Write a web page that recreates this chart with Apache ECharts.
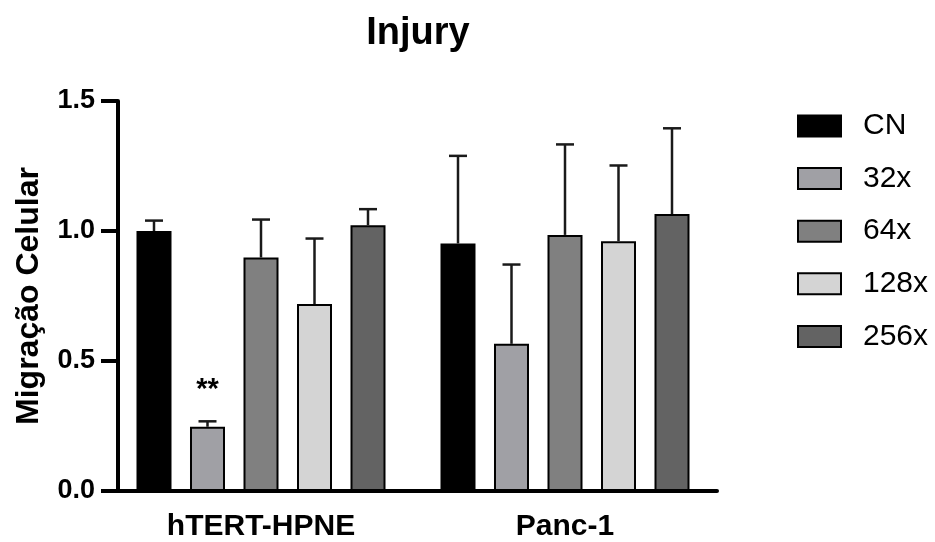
<!DOCTYPE html>
<html>
<head>
<meta charset="utf-8">
<script src="https://cdn.jsdelivr.net/npm/echarts@6/dist/echarts.min.js"></script>
<style>html,body{margin:0;padding:0;background:#fff}#c{width:935px;height:542px}</style>
</head>
<body>
<div id="c"></div>
<script>
const categories = ['hTERT-HPNE', 'Panc-1'];
const seriesNames = ['CN', '32x', '64x', '128x', '256x'];
const CN = [1.0, 0.952];
const x32 = [0.247, 0.566];
const x64 = [0.898, 0.985];
const x128 = [0.719, 0.961];
const x256 = [1.022, 1.065];
const errCN = [0.04, 0.337];
const err32 = [0.021, 0.305];
const err64 = [0.146, 0.348];
const err128 = [0.252, 0.291];
const err256 = [0.062, 0.33];
const sig32 = ['**', ''];
const yTicks = [0, 0.5, 1.0, 1.5];

const values = [CN, x32, x64, x128, x256];
const errors = [errCN, err32, err64, err128, err256];
const colors = ['#000000', '#a0a0a5', '#808080', '#d4d4d4', '#636363'];

const BAR_W = 35;
const GAP = 18.5;
const FONT = 'Liberation Sans, Arial, sans-serif';

const series = [];
seriesNames.forEach((name, i) => {
  series.push({
    name: name,
    type: 'bar',
    barWidth: BAR_W,
    barGap: (GAP / BAR_W * 100).toFixed(2) + '%',
    itemStyle: { color: colors[i], borderColor: '#000', borderWidth: 2 },
    data: values[i].map((v, k) => {
      const item = { value: v };
      if (i === 1 && sig32[k]) {
        item.label = {
          show: true, position: 'top', distance: 22,
          formatter: sig32[k], fontSize: 29, fontWeight: 'bold', color: '#000',
          fontFamily: FONT
        };
      }
      return item;
    }),
    z: 2
  });
});
seriesNames.forEach((name, i) => {
  series.push({
    name: name + ' err',
    type: 'custom',
    clip: false,
    z: 3,
    renderItem: function (params, api) {
      const c = api.value(0), v = api.value(1), e = api.value(2);
      const off = (i - 2) * (BAR_W + GAP);
      const p0 = api.coord([c, v]);
      const p1 = api.coord([c, v + e]);
      const x = p0[0] + off;
      return {
        type: 'group',
        children: [
          { type: 'line', shape: { x1: x, y1: p0[1], x2: x, y2: p1[1] }, style: { stroke: '#1a1a1a', lineWidth: 2.5 } },
          { type: 'line', shape: { x1: x - 9, y1: p1[1], x2: x + 9, y2: p1[1] }, style: { stroke: '#1a1a1a', lineWidth: 2.5 } }
        ]
      };
    },
    data: values[i].map((v, k) => [k, v, errors[i][k]])
  });
});

const chart = echarts.init(document.getElementById('c'), null, { renderer: 'canvas' });
chart.setOption({
  animation: false,
  backgroundColor: '#fff',
  title: {
    text: 'Injury', left: 413, top: 10, textAlign: 'center',
    textStyle: { fontFamily: FONT, fontSize: 38, fontWeight: 'bold', color: '#000' }
  },
  legend: {
    data: seriesNames,
    orient: 'vertical',
    left: 797, top: 111, padding: 0,
    icon: 'rect',
    itemWidth: 43, itemHeight: 21, itemGap: 22.6,
    textStyle: { fontFamily: FONT, fontSize: 30, color: '#000', padding: [0, 0, 0, 17] },
    selectedMode: false
  },
  grid: { left: 109, right: 218, top: 101, bottom: 49 },
  xAxis: {
    type: 'category',
    data: categories,
    axisLine: { lineStyle: { color: '#000', width: 4 } },
    axisTick: { alignWithLabel: true, length: 17, lineStyle: { color: '#000', width: 3 } },
    axisLabel: { fontFamily: FONT, fontSize: 30, fontWeight: 'bold', color: '#000', margin: 21 }
  },
  yAxis: {
    type: 'value', min: yTicks[0], max: yTicks[yTicks.length - 1], interval: 0.5,
    offset: -9,
    name: 'Migração Celular', nameLocation: 'middle', nameGap: 73,
    nameTextStyle: { fontFamily: FONT, fontSize: 32, fontWeight: 'bold', color: '#000' },
    axisLine: { show: true, lineStyle: { color: '#000', width: 4 } },
    axisTick: { show: true, length: 17, lineStyle: { color: '#000', width: 4 } },
    axisLabel: { fontFamily: FONT, fontSize: 27, fontWeight: 'bold', color: '#000', margin: 23,
      formatter: v => v.toFixed(1) },
    splitLine: { show: false }
  },
  series: series
});
</script>
</body>
</html>
